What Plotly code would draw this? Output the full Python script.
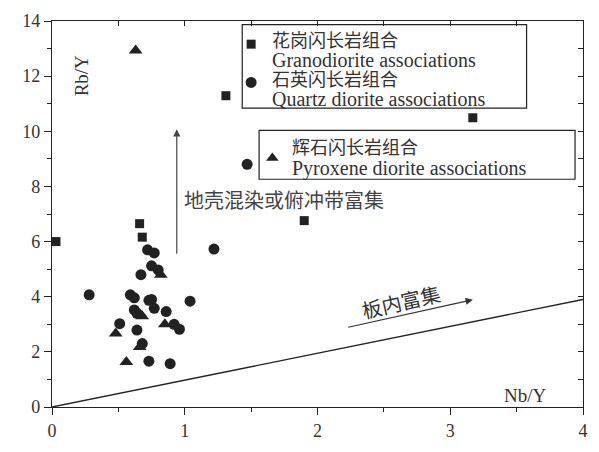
import plotly.graph_objects as go

# ---- data ----
granodiorite_x = [0.03, 0.66, 0.68, 1.31, 3.17, 1.90]
granodiorite_y = [6.00, 6.65, 6.16, 11.29, 10.49, 6.76]

quartz_x = [0.28, 0.72, 0.77, 0.75, 0.80, 0.67, 1.22, 0.59, 0.62, 0.73, 0.75, 0.77,
            1.04, 0.62, 0.64, 0.86, 0.51, 0.64, 0.92, 0.96, 0.68, 0.73, 0.89, 1.47]
quartz_y = [4.07, 5.70, 5.59, 5.12, 4.97, 4.80, 5.73, 4.07, 3.96, 3.87, 3.90, 3.58,
            3.84, 3.52, 3.40, 3.46, 3.02, 2.79, 3.00, 2.82, 2.30, 1.66, 1.57, 8.80]

pyroxene_x = [0.63, 0.82, 0.68, 0.48, 0.85, 0.66, 0.56]
pyroxene_y = [12.93, 4.80, 3.29, 2.67, 3.00, 2.18, 1.63]

boundary_x = [0, 4]
boundary_y = [0, 3.9]

x_ticks = [0, 1, 2, 3, 4]
y_ticks = [0, 2, 4, 6, 8, 10, 12, 14]

legend_cn = ["花岗闪长岩组合", "石英闪长岩组合", "辉石闪长岩组合"]
legend_en = ["Granodiorite associations", "Quartz diorite associations",
             "Pyroxene diorite associations"]

INK = "#222222"
TXT = "#333333"
SERIF = "Liberation Serif, Times New Roman, serif"
CJK = "Noto Sans CJK SC"

fig = go.Figure()

fig.add_trace(go.Scatter(x=boundary_x, y=boundary_y, mode="lines",
                         line=dict(color=INK, width=1.4), showlegend=False, hoverinfo="skip"))
fig.add_trace(go.Scatter(x=granodiorite_x, y=granodiorite_y, mode="markers",
                         marker=dict(symbol="square", size=9, color=INK), showlegend=False))
fig.add_trace(go.Scatter(x=quartz_x, y=quartz_y, mode="markers",
                         marker=dict(symbol="circle", size=11, color=INK), showlegend=False))
fig.add_trace(go.Scatter(x=pyroxene_x, y=pyroxene_y, mode="markers",
                         marker=dict(symbol="triangle-up", size=12, color=INK), showlegend=False))

# legend key markers (legend layout)
key_pos = [(1.50, 13.16, "square", 9), (1.50, 11.77, "circle", 11), (1.66, 9.03, "triangle-up", 11)]
for kx, ky, sym, sz in key_pos:
    fig.add_trace(go.Scatter(x=[kx], y=[ky], mode="markers",
                             marker=dict(symbol=sym, size=sz, color=INK),
                             showlegend=False, hoverinfo="skip"))

# invisible trace for mirror axes with inside ticks
fig.add_trace(go.Scatter(x=[0], y=[0], xaxis="x2", yaxis="y2", mode="markers",
                         marker=dict(opacity=0), showlegend=False, hoverinfo="skip"))

# legend boxes
shapes = [
    dict(type="rect", xref="x", yref="y", x0=1.433, x1=3.575, y0=10.84, y1=13.87,
         line=dict(color=INK, width=1.2), fillcolor="rgba(0,0,0,0)", layer="above"),
    dict(type="rect", xref="x", yref="y", x0=1.56, x1=3.94, y0=8.26, y1=10.03,
         line=dict(color=INK, width=1.2), fillcolor="rgba(0,0,0,0)", layer="above"),
]


def cn(t):
    return f'<span style="font-family:{CJK};font-size:18px">{t}</span>'


def en(t):
    return f'<span style="font-family:{SERIF};font-size:20px">{t}</span>'


ann = []
ann.append(dict(x=1.64, y=12.30, xanchor="left", yanchor="middle", align="left", showarrow=False,
                text="<br>".join([cn(legend_cn[0]), en(legend_en[0]), cn(legend_cn[1]), en(legend_en[1])]),
                font=dict(family=SERIF, size=15, color=TXT)))
ann.append(dict(x=1.79, y=9.08, xanchor="left", yanchor="middle", align="left", showarrow=False,
                text="<br>".join([cn(legend_cn[2]), en(legend_en[2])]),
                font=dict(family=SERIF, size=16, color=TXT)))

# vertical arrow
ann.append(dict(x=0.94, y=10.07, ax=0.94, ay=5.5, axref="x", ayref="y", text="",
                showarrow=True, arrowhead=2, arrowsize=1.2, arrowwidth=1.2, arrowcolor="#444"))
ann.append(dict(x=0.98, y=7.53, text="地壳混染或俯冲带富集", showarrow=False,
                xanchor="left", yanchor="middle", font=dict(family=CJK, size=20, color="#444")))
# oblique arrow
ann.append(dict(x=3.17, y=3.89, ax=2.22, ay=2.88, axref="x", ayref="y", text="",
                showarrow=True, arrowhead=2, arrowsize=1.2, arrowwidth=1.2, arrowcolor="#333"))
ann.append(dict(x=2.63, y=3.82, text="板内富集", showarrow=False, textangle=-13,
                xanchor="center", yanchor="middle", font=dict(family=CJK, size=20, color="#333")))
# axis titles
ann.append(dict(x=0.22, y=12.0, text="Rb/Y", showarrow=False, textangle=-90,
                font=dict(family=SERIF, size=19, color=TXT)))
ann.append(dict(x=3.57, y=0.40, text="Nb/Y", showarrow=False,
                font=dict(family=SERIF, size=19, color=TXT)))

fig.update_layout(
    width=599, height=452,
    margin=dict(l=52, r=11, t=14, b=36),
    paper_bgcolor="white", plot_bgcolor="white",
    annotations=ann,
    shapes=shapes,
    xaxis=dict(range=[0, 4], tickvals=x_ticks, ticks="outside", ticklen=7, tickwidth=1.2,
               tickcolor=INK, showline=True, linecolor=INK, linewidth=1.3, mirror=True,
               showgrid=False, zeroline=False,
               tickfont=dict(family=SERIF, size=18, color=TXT),
               minor=dict(dtick=0.5, ticks="outside", ticklen=4, tickcolor=INK, tickwidth=1.2)),
    yaxis=dict(range=[0, 14], tickvals=y_ticks, ticks="outside", ticklen=7, tickwidth=1.2,
               tickcolor=INK, showline=True, linecolor=INK, linewidth=1.3, mirror=True,
               showgrid=False, zeroline=False,
               tickfont=dict(family=SERIF, size=18, color=TXT),
               minor=dict(dtick=1, ticks="outside", ticklen=4, tickcolor=INK, tickwidth=1.2)),
    xaxis2=dict(range=[0, 4], overlaying="x", side="top", anchor="y2", dtick=0.5,
                ticks="inside", ticklen=5, tickcolor=INK, tickwidth=1.2, showticklabels=False,
                showgrid=False, zeroline=False, showline=False),
    yaxis2=dict(range=[0, 14], overlaying="y", side="right", anchor="x2", dtick=1,
                ticks="inside", ticklen=5, tickcolor=INK, tickwidth=1.2, showticklabels=False,
                showgrid=False, zeroline=False, showline=False),
)

fig.write_html("out.html")
